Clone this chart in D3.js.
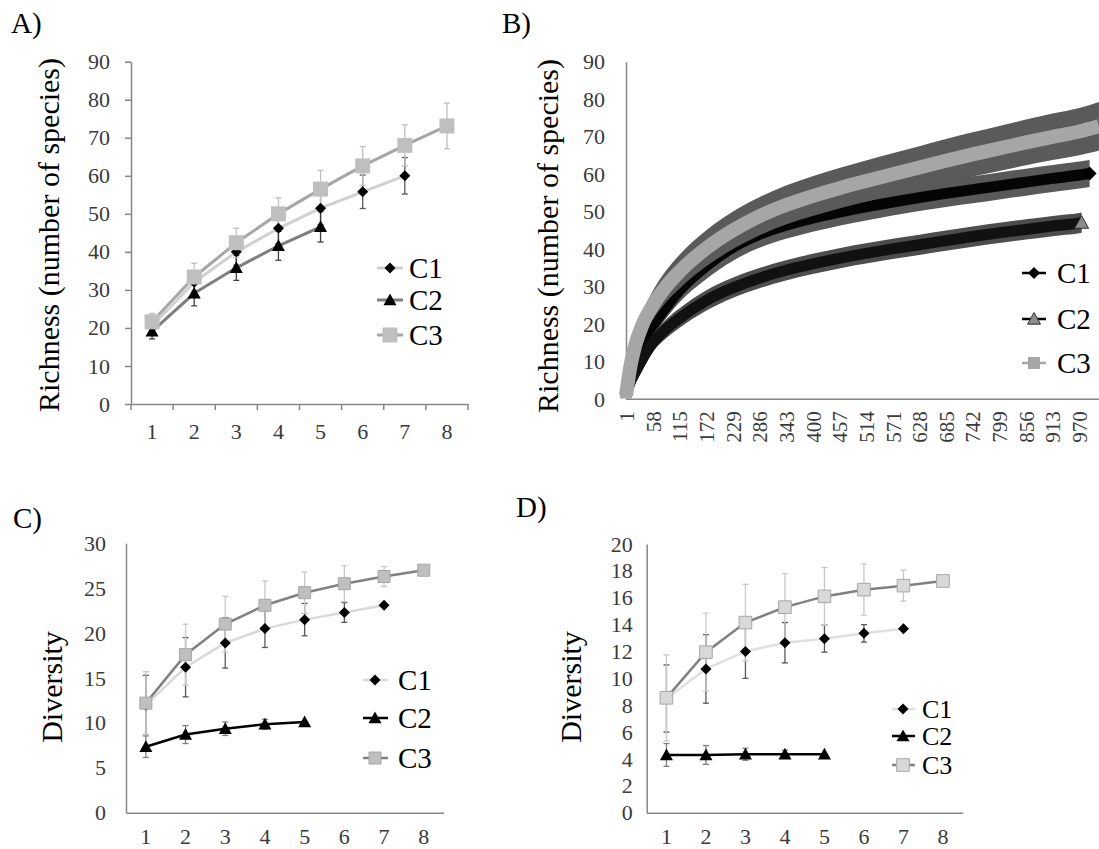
<!DOCTYPE html>
<html>
<head>
<meta charset="utf-8">
<script src="https://cdn.jsdelivr.net/npm/d3@7"></script>
<style>
  body { margin: 0; background: #fff; }
  svg text { font-family: "Liberation Serif", Tinos, "Times New Roman", "DejaVu Serif", serif; }
</style>
</head>
<body>
<script>
// ---------------- data ----------------
var cats = [1, 2, 3, 4, 5, 6, 7, 8];
var seriesNames = ["C1", "C2", "C3"];

// A) richness per sampling unit
var richC1 = [20.5, 32, 40, 46.2, 51.5, 55.8, 60];
var richC1Err = [2, 3, 3.5, 4, 4.3, 4.4, 4.8];
var richC2 = [19.1, 29.1, 35.8, 41.6, 46.6];
var richC2Err = [2, 3.3, 3.3, 3.8, 4];
var richC3 = [21.6, 33.4, 42.4, 50.0, 56.5, 62.6, 68.0, 73.1];
var richC3Err = [2.2, 3.6, 3.8, 4.2, 4.9, 5.1, 5.4, 6.0];

// B) rarefaction (individuals -> species)
var rareTicks = [1, 58, 115, 172, 229, 286, 343, 400, 457, 514, 571, 628, 685, 742, 799, 856, 913, 970];
var rareC1N = [1, 10, 20, 35, 58, 86, 115, 172, 229, 286, 343, 400, 457, 514, 571, 628, 685, 742, 799, 856, 913, 970, 992];
var rareC1 = [1, 6, 10, 14.5, 19.5, 24.5, 29, 35.5, 40.5, 44, 46.4, 48.3, 49.9, 51.3, 52.6, 53.8, 54.9, 55.9, 56.9, 57.9, 58.9, 59.8, 60.2];
var rareC1Err = [0, 1, 1.5, 2, 2.5, 3, 3.2, 3.5, 3.6, 3.6, 3.6, 3.6, 3.6, 3.6, 3.6, 3.6, 3.6, 3.6, 3.6, 3.6, 3.6, 3.6, 3.6];
var rareC2N = [1, 10, 20, 35, 58, 86, 115, 172, 229, 286, 343, 400, 457, 514, 571, 628, 685, 742, 799, 856, 913, 970, 975];
var rareC2 = [1, 4.5, 7, 10.5, 15, 18.7, 21.6, 26.3, 29.7, 32.3, 34.4, 36.1, 37.6, 38.9, 40.1, 41.2, 42.3, 43.4, 44.4, 45.3, 46.2, 47.0, 47.1];
var rareC2Err = [0, 1, 1.5, 2, 2.3, 2.5, 2.6, 2.7, 2.7, 2.7, 2.7, 2.7, 2.7, 2.7, 2.7, 2.7, 2.7, 2.7, 2.7, 2.7, 2.7, 2.7, 2.7];
var rareC3N = [1, 10, 20, 35, 58, 86, 115, 172, 229, 286, 343, 400, 457, 514, 571, 628, 685, 742, 799, 856, 913, 970, 1012];
var rareC3 = [1, 8.5, 14, 19.5, 25, 30, 34, 40.2, 45, 48.8, 51.8, 54.2, 56.3, 58.2, 60, 61.8, 63.6, 65.3, 66.9, 68.5, 70.0, 71.4, 72.8];
var rareC3Err = [0, 1.5, 2.5, 3.2, 3.8, 4.2, 4.5, 4.8, 5, 5.1, 5.2, 5.3, 5.4, 5.5, 5.6, 5.7, 5.8, 5.9, 6.0, 6.1, 6.2, 6.3, 6.5];

// C) diversity
var divC1 = [12.0, 16.2, 18.9, 20.5, 21.5, 22.3, 23.1];
var divC1Err = [3.3, 3.3, 2.8, 2.1, 1.8, 1.1, 0];
var divC2 = [7.35, 8.7, 9.35, 9.85, 10.1];
var divC2Err = [1.2, 1.0, 0.75, 0.55, 0];
var divC3 = [12.2, 17.6, 21.0, 23.1, 24.5, 25.5, 26.3, 27.0];
var divC3Err = [3.5, 3.4, 3.1, 2.7, 2.3, 2.0, 1.1, 0];

// D) diversity
var dC1 = [8.5, 10.7, 12.0, 12.65, 12.95, 13.35, 13.7];
var dC1Err = [2.5, 2.55, 2.0, 1.5, 1.0, 0.65, 0];
var dC2 = [4.3, 4.3, 4.35, 4.35, 4.35];
var dC2Err = [0.85, 0.7, 0.45, 0.3, 0];
var dC3 = [8.55, 11.95, 14.15, 15.3, 16.1, 16.6, 16.9, 17.25];
var dC3Err = [3.2, 2.9, 2.85, 2.5, 2.15, 1.9, 1.15, 0];

// ---------------- drawing ----------------
var axisColor = "#868686";
var tickColor = "#3a3a3a";

var svg = d3.select("body").append("svg")
  .attr("width", 1099).attr("height", 849)
  .style("background", "#fff");

function markerPath(type, r) {
  if (type == "diamond") return "M0," + (-r) + "L" + r + ",0L0," + r + "L" + (-r) + ",0Z";
  if (type == "triangle") return "M0," + (-r) + "L" + r + "," + (r * 0.8) + "L" + (-r) + "," + (r * 0.8) + "Z";
  return "M" + (-r) + "," + (-r) + "h" + (2 * r) + "v" + (2 * r) + "h" + (-2 * r) + "Z";
}

function styleAxis(a, fontSize) {
  a.attr("font-family", null);
  a.select(".domain").attr("stroke", axisColor).attr("stroke-width", 1.5);
  a.selectAll(".tick line").attr("stroke", axisColor).attr("stroke-width", 1.5);
  a.selectAll(".tick text").style("font-size", fontSize + "px").attr("fill", tickColor);
}

function panelText(g, label, lx, ly, title, tx, ty) {
  g.append("text").attr("x", lx).attr("y", ly)
    .style("font-size", "29px").attr("fill", "#000").text(label);
  g.append("text").attr("transform", "translate(" + tx + "," + ty + ") rotate(-90)")
    .attr("text-anchor", "middle")
    .style("font-size", "30px").attr("fill", "#000").text(title);
}

function drawLegend(g, lg, series) {
  series.forEach(function(s, i) {
    var yy = lg.ys[i];
    g.append("line").attr("x1", lg.x0).attr("x2", lg.x1).attr("y1", yy).attr("y2", yy)
      .attr("stroke", s.line).attr("stroke-width", s.lw);
    g.append("path").attr("d", markerPath(s.marker, s.r))
      .attr("transform", "translate(" + lg.mx + "," + yy + ")")
      .attr("fill", s.fill).attr("stroke", s.stroke || "none");
    g.append("text").attr("x", lg.tx).attr("y", yy + lg.fs * 0.34)
      .style("font-size", lg.fs + "px").attr("fill", "#000")
      .text(seriesNames[i]);
  });
}

function drawCatPanel(p) {
  var g = svg.append("g");
  var x = d3.scaleBand().domain(cats).range([p.x0, p.x1]);
  var cx = function(c) { return x(c) + x.bandwidth() / 2; };
  var y = d3.scaleLinear().domain([0, p.ymax]).range([p.y0, p.y1]);

  var gy = g.append("g").attr("transform", "translate(" + p.x0 + ",0)")
    .call(d3.axisLeft(y).tickValues(d3.range(0, p.ymax + p.ystep / 2, p.ystep))
      .tickSize(p.tick).tickSizeOuter(0).tickPadding(p.ypad));
  var gx = g.append("g").attr("transform", "translate(0," + p.y0 + ")")
    .call(d3.axisBottom(x).tickSize(0).tickSizeOuter(0).tickPadding(p.xpad));
  styleAxis(gy, 22);
  styleAxis(gx, 22);

  // category boundary ticks (panel A only)
  if (p.tick) {
    g.selectAll(".xb").data(d3.range(cats.length + 1)).enter().append("line")
      .attr("x1", function(i) { return p.x0 + i * x.step(); })
      .attr("x2", function(i) { return p.x0 + i * x.step(); })
      .attr("y1", p.y0).attr("y2", p.y0 + p.tick)
      .attr("stroke", axisColor).attr("stroke-width", 1.5);
  }

  // error bars first, then lines and markers on top
  p.series.forEach(function(s) {
    var pts = s.vals.map(function(v, i) { return { c: cats[i], v: v, e: s.err[i] }; });
    var eb = g.append("g").attr("stroke", s.errColor).attr("stroke-width", 1.3);
    pts.filter(function(d) { return d.e > 0; }).forEach(function(d) {
      var xx = cx(d.c);
      eb.append("line").attr("x1", xx).attr("x2", xx).attr("y1", y(d.v - d.e)).attr("y2", y(d.v + d.e));
      eb.append("line").attr("x1", xx - 3).attr("x2", xx + 3).attr("y1", y(d.v - d.e)).attr("y2", y(d.v - d.e));
      eb.append("line").attr("x1", xx - 3).attr("x2", xx + 3).attr("y1", y(d.v + d.e)).attr("y2", y(d.v + d.e));
    });
  });
  p.series.forEach(function(s) {
    var pts = s.vals.map(function(v, i) { return { c: cats[i], v: v }; });
    g.append("path").datum(pts)
      .attr("d", d3.line().x(function(d) { return cx(d.c); }).y(function(d) { return y(d.v); }))
      .attr("fill", "none").attr("stroke", s.line).attr("stroke-width", s.lw);
    g.selectAll(null).data(pts).enter().append("path")
      .attr("d", markerPath(s.marker, s.r))
      .attr("transform", function(d) { return "translate(" + cx(d.c) + "," + y(d.v) + ")"; })
      .attr("fill", s.fill).attr("stroke", s.stroke || "none");
  });

  drawLegend(g, p.legend, p.series);
  panelText(g, p.label, p.lx, p.ly, p.title, p.tx, p.ty);
}

// Panel A
drawCatPanel({
  x0: 131, x1: 468, y0: 404, y1: 61.7, ymax: 90, ystep: 10, tick: 6, ypad: 15, xpad: 19,
  series: [
    { vals: richC1, err: richC1Err, line: "#d0d0d0", lw: 3, marker: "diamond", r: 5.5, fill: "#000", errColor: "#595959" },
    { vals: richC2, err: richC2Err, line: "#7f7f7f", lw: 3, marker: "triangle", r: 6.5, fill: "#000", errColor: "#404040" },
    { vals: richC3, err: richC3Err, line: "#a6a6a6", lw: 3, marker: "square", r: 7.5, fill: "#bfbfbf", errColor: "#bfbfbf" }
  ],
  legend: { x0: 377, x1: 403, mx: 390, tx: 409, fs: 29, ys: [268, 300, 335] },
  label: "A)", lx: 11, ly: 33, title: "Richness (number of species)", tx: 59, ty: 235
});

// Panel C
drawCatPanel({
  x0: 126, x1: 443.6, y0: 812.7, y1: 543.3, ymax: 30, ystep: 5, tick: 0, ypad: 20, xpad: 16,
  series: [
    { vals: divC1, err: divC1Err, line: "#d9d9d9", lw: 2.5, marker: "diamond", r: 5.5, fill: "#000", errColor: "#595959" },
    { vals: divC2, err: divC2Err, line: "#000", lw: 2.5, marker: "triangle", r: 6.5, fill: "#000", errColor: "#7f7f7f" },
    { vals: divC3, err: divC3Err, line: "#808080", lw: 2.5, marker: "square", r: 6, fill: "#bfbfbf", stroke: "#a6a6a6", errColor: "#c8c8c8" }
  ],
  legend: { x0: 363, x1: 388, mx: 375, tx: 398, fs: 29, ys: [680, 718, 758] },
  label: "C)", lx: 13, ly: 528, title: "Diversity", tx: 62, ty: 687
});

// Panel D
drawCatPanel({
  x0: 646.7, x1: 962.7, y0: 812.7, y1: 544, ymax: 20, ystep: 2, tick: 0, ypad: 14, xpad: 16,
  series: [
    { vals: dC1, err: dC1Err, line: "#e0e0e0", lw: 2.5, marker: "diamond", r: 5.5, fill: "#000", errColor: "#595959" },
    { vals: dC2, err: dC2Err, line: "#000", lw: 2.5, marker: "triangle", r: 6.5, fill: "#000", errColor: "#7f7f7f" },
    { vals: dC3, err: dC3Err, line: "#808080", lw: 2.5, marker: "square", r: 6.3, fill: "#d9d9d9", stroke: "#a6a6a6", errColor: "#c8c8c8" }
  ],
  legend: { x0: 892, x1: 915, mx: 903, tx: 922, fs: 26, ys: [709, 736, 765] },
  label: "D)", lx: 516, ly: 517, title: "Diversity", tx: 581, ty: 687
});

// Panel B (rarefaction curves)
(function() {
  var g = svg.append("g");
  var x = d3.scaleLinear().domain([1, 1012]).range([626, 626 + 1011 * 0.4678]);
  var y = d3.scaleLinear().domain([0, 90]).range([399.3, 61.8]);

  var gy = g.append("g").attr("transform", "translate(626,0)")
    .call(d3.axisLeft(y).tickValues(d3.range(0, 91, 10)).tickSize(0).tickSizeOuter(0).tickPadding(21));
  styleAxis(gy, 22);
  var gx = g.append("g").attr("transform", "translate(0,399.3)")
    .call(d3.axisBottom(x).tickValues(rareTicks).tickSize(0).tickSizeOuter(0).tickFormat(d3.format("d")));
  styleAxis(gx, 21);
  gx.select(".domain").attr("d", "M626,0H1099");
  gx.selectAll(".tick text")
    .attr("y", 0).attr("dy", "0.35em")
    .attr("text-anchor", "end")
    .attr("transform", "translate(0,12) rotate(-90)");

  var bSeries = [
    { n: rareC1N, v: rareC1, e: rareC1Err, band: "#595959", line: "#050505", lw: 11 },
    { n: rareC2N, v: rareC2, e: rareC2Err, band: "#4d4d4d", line: "#111", lw: 11 },
    { n: rareC3N, v: rareC3, e: rareC3Err, band: "#5a5a5a", line: "#a6a6a6", lw: 14 }
  ];
  var clip = svg.append("clipPath").attr("id", "bclip");
  clip.append("rect").attr("x", 600).attr("y", 40).attr("width", 499).attr("height", 365);
  var plot = g.append("g").attr("clip-path", "url(#bclip)");

  // dense error bars read as a band, dense markers as a thick line
  bSeries.forEach(function(s) {
    var pts = s.n.map(function(n, i) { return { n: n, v: s.v[i], e: s.e[i] }; });
    plot.append("path").datum(pts)
      .attr("d", d3.area().curve(d3.curveMonotoneX)
        .x(function(d) { return x(d.n); })
        .y0(function(d) { return y(Math.max(0, d.v - d.e)); })
        .y1(function(d) { return y(d.v + d.e); }))
      .attr("fill", s.band);
    plot.append("path").datum(pts)
      .attr("d", d3.line().curve(d3.curveMonotoneX)
        .x(function(d) { return x(d.n); }).y(function(d) { return y(d.v); }))
      .attr("fill", "none").attr("stroke", s.line).attr("stroke-width", s.lw);
  });
  plot.append("path").attr("d", markerPath("square", 6))
    .attr("transform", "translate(" + x(rareC3N[0]) + "," + (y(rareC3[0]) - 3) + ")").attr("fill", "#a6a6a6");
  var l1 = rareC1N.length - 1, l2 = rareC2N.length - 1;
  plot.append("path").attr("d", markerPath("diamond", 7))
    .attr("transform", "translate(" + x(rareC1N[l1]) + "," + y(rareC1[l1]) + ")").attr("fill", "#000");
  plot.append("path").attr("d", markerPath("triangle", 7))
    .attr("transform", "translate(" + x(rareC2N[l2]) + "," + y(rareC2[l2]) + ")")
    .attr("fill", "#8c8c8c").attr("stroke", "#333").attr("stroke-width", 1);

  drawLegend(g, { x0: 1022, x1: 1046, mx: 1034, tx: 1057, fs: 29, ys: [273, 319, 363] }, [
    { line: "#000", lw: 2.5, marker: "diamond", r: 6, fill: "#000" },
    { line: "#000", lw: 2.5, marker: "triangle", r: 6.5, fill: "#8c8c8c", stroke: "#333" },
    { line: "#a6a6a6", lw: 2.5, marker: "square", r: 6, fill: "#a6a6a6" }
  ]);
  panelText(g, "B)", 502, 33, "Richness (number of species)", 558, 236);
})();
</script>
</body>
</html>
